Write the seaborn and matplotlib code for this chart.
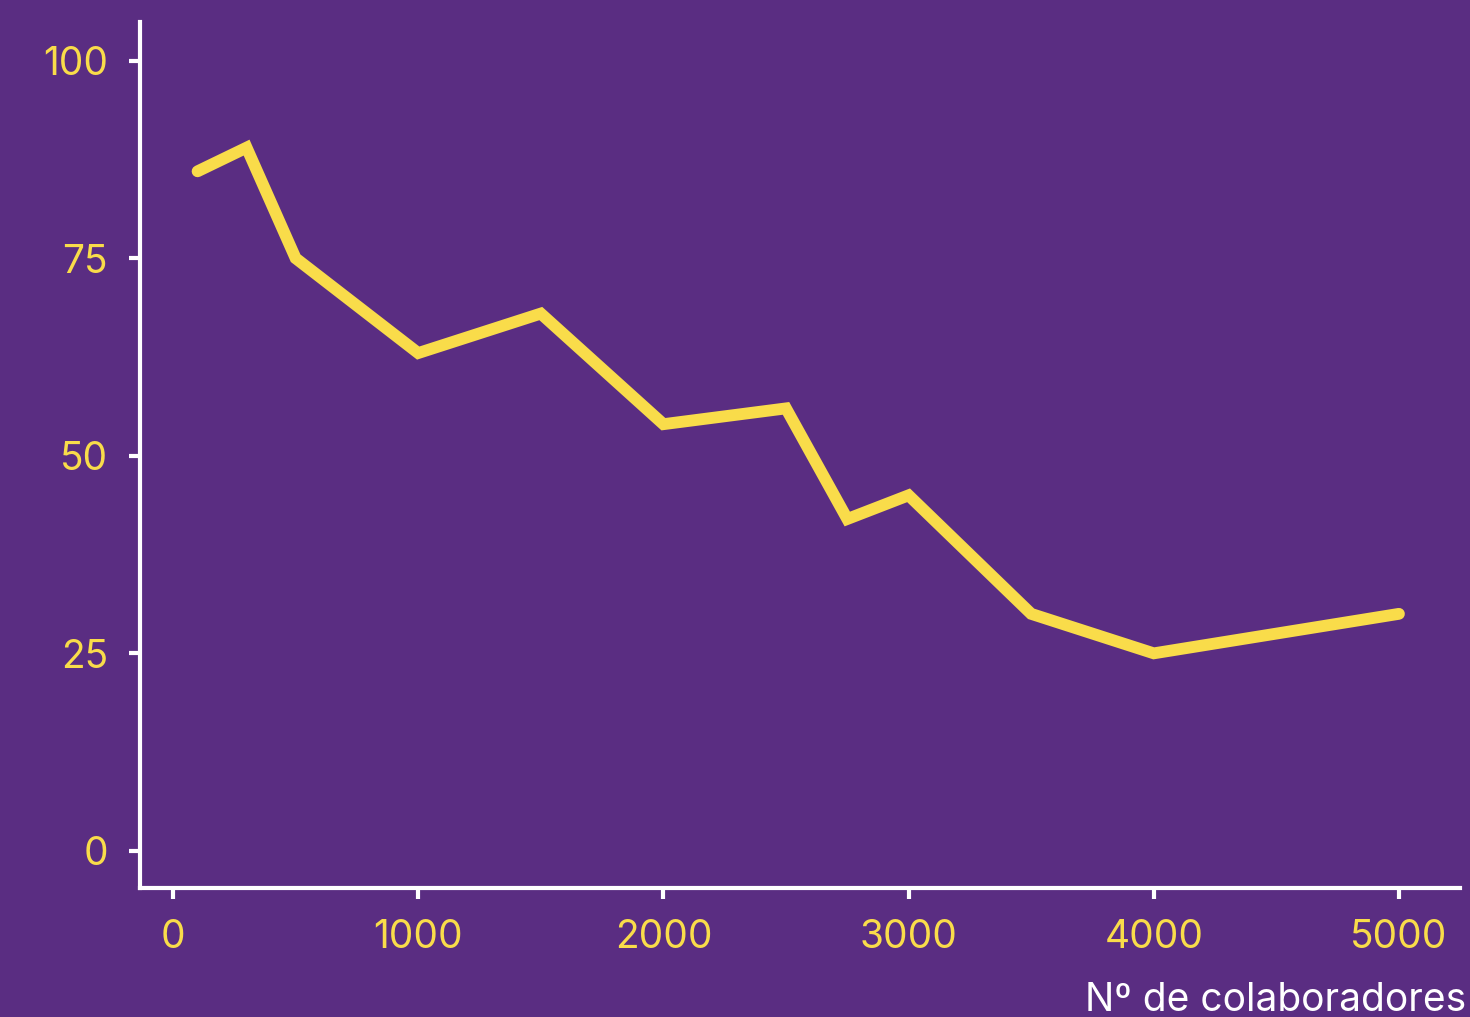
import matplotlib
matplotlib.use("Agg")
import matplotlib.pyplot as plt
import seaborn as sns
import pandas as pd

# Colaboradores vs. porcentaje
colaboradores = [100, 300, 500, 1000, 1500, 2000, 2500, 2750, 3000, 3500, 4000, 5000]
porcentaje = [86, 89, 75, 63, 68, 54, 56, 42, 45, 30, 25, 30]
x_ticks = [0, 1000, 2000, 3000, 4000, 5000]
y_ticks = [0, 25, 50, 75, 100]

BG = "#5A2D82"
YELLOW = "#F9DC4A"
WHITE = "#FFFFFF"

sns.set_theme(style="ticks")
plt.rcParams["font.family"] = ["Inter", "DejaVu Sans"]

df = pd.DataFrame({"colaboradores": colaboradores, "porcentaje": porcentaje})

fig = plt.figure(figsize=(14.7, 10.17), dpi=100, facecolor=BG)
ax = fig.add_axes([0.0952, 0.1268, 0.898, 0.8516])
ax.set_facecolor(BG)

sns.lineplot(data=df, x="colaboradores", y="porcentaje", ax=ax,
             color=YELLOW, linewidth=8.5, solid_capstyle="round",
             solid_joinstyle="miter")

ax.set_xlim(-135, 5249)
ax.set_ylim(-4.7, 104.9)
ax.set_xticks(x_ticks)
ax.set_yticks(y_ticks)

for side in ("top", "right"):
    ax.spines[side].set_visible(False)
for side in ("left", "bottom"):
    ax.spines[side].set_color(WHITE)
    ax.spines[side].set_linewidth(3)

ax.tick_params(axis="both", colors=WHITE, labelcolor=YELLOW, length=8,
               width=3, labelsize=28)
ax.tick_params(axis="y", pad=15)
ax.tick_params(axis="x", pad=14)

ax.set_ylabel("")
ax.set_xlabel("Nº de colaboradores", color=WHITE, fontsize=28)
ax.xaxis.set_label_coords(1.005, -0.142)
ax.xaxis.label.set_horizontalalignment("right")
ax.xaxis.label.set_verticalalignment("baseline")

fig.savefig("out.png", dpi=100, facecolor=BG)
